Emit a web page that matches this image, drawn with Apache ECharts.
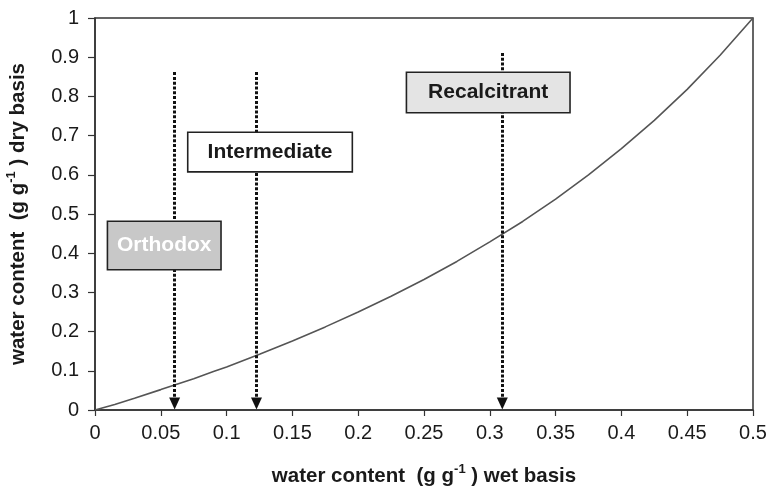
<!DOCTYPE html>
<html>
<head>
<meta charset="utf-8">
<script src="https://cdn.jsdelivr.net/npm/echarts@6/dist/echarts.min.js"></script>
<style>html,body{margin:0;padding:0;background:#fff}#c{width:767px;height:489px}</style>
</head>
<body>
<div id="c"></div>
<script>
// wet basis (x) vs dry basis (y) water content curve
const curveX = [0, 0.015, 0.03, 0.05, 0.075, 0.09, 0.1, 0.125, 0.15, 0.175, 0.2, 0.225, 0.25, 0.275, 0.3, 0.325, 0.35, 0.375, 0.4, 0.425, 0.45, 0.475, 0.5];
const curveY = [0, 0.014, 0.03, 0.052, 0.08, 0.098, 0.11, 0.142, 0.176, 0.212, 0.25, 0.29, 0.333, 0.379, 0.429, 0.481, 0.538, 0.6, 0.667, 0.739, 0.818, 0.905, 1.0];

// category arrows (x position, top value)
const arrowX = [0.0605, 0.1227, 0.3095];
const arrowTop = [0.862, 0.862, 0.911];

// category boxes
const boxNames = ['Orthodox', 'Intermediate', 'Recalcitrant'];
const boxX = [0.0526, 0.133, 0.2988];
const boxY = [0.4196, 0.658, 0.81];

const xTicks = ['0', '0.05', '0.1', '0.15', '0.2', '0.25', '0.3', '0.35', '0.4', '0.45', '0.5'];
const yTicks = ['0', '0.1', '0.2', '0.3', '0.4', '0.5', '0.6', '0.7', '0.8', '0.9', '1'];

const FONT = "'Liberation Sans', Arial, Helvetica, sans-serif";
const boxStyles = [
  {bg: '#c8c8c8', color: '#ffffff', w: 112, h: 47},
  {bg: '#ffffff', color: '#1a1a1a', w: 163, h: 38},
  {bg: '#e4e4e4', color: '#1a1a1a', w: 162, h: 39}
];

const chart = echarts.init(document.getElementById('c'), null, {renderer: 'canvas'});
const titleRich = {
  a: {fontFamily: FONT, fontWeight: 'bold', fontSize: 20.5, color: '#1a1a1a'},
  s: {fontFamily: FONT, fontWeight: 'bold', fontSize: 13, color: '#1a1a1a', padding: [0, 0, 13, 0]}
};

chart.setOption({
  animation: false,
  backgroundColor: '#fff',
  grid: {left: 95, right: 14, top: 18, bottom: 79, outerBoundsMode: 'none', containLabel: false,
         show: true, borderColor: '#333', borderWidth: 1.5, backgroundColor: 'transparent'},
  xAxis: {
    type: 'value', min: 0, max: 0.5, interval: 0.05,
    name: '{a|water content  (g g}{s|-1}{a| ) wet basis}',
    nameLocation: 'middle', nameGap: 53, nameMoveOverlap: false,
    nameTextStyle: {rich: titleRich},
    axisLine: {show: true, lineStyle: {color: '#333', width: 1.5}},
    axisTick: {show: true, length: 6, lineStyle: {color: '#333', width: 1.2}},
    splitLine: {show: false},
    axisLabel: {
      margin: 13, fontFamily: FONT, fontSize: 20, color: '#1a1a1a',
      formatter: function (v) { return xTicks[Math.round(v / 0.05)]; }
    }
  },
  yAxis: {
    type: 'value', min: 0, max: 1, interval: 0.1,
    name: '{a|water content  (g g}{s|-1}{a| ) dry basis}',
    nameLocation: 'middle', nameGap: 64, nameRotate: 90, nameMoveOverlap: false,
    nameTextStyle: {rich: titleRich},
    axisLine: {show: true, lineStyle: {color: '#333', width: 1.5}},
    axisTick: {show: true, length: 7, lineStyle: {color: '#333', width: 1.2}},
    splitLine: {show: false},
    axisLabel: {
      margin: 16, fontFamily: FONT, fontSize: 20, color: '#1a1a1a',
      formatter: function (v) { return yTicks[Math.round(v / 0.1)]; }
    }
  },
  series: [
    {
      type: 'line', z: 2,
      data: curveX.map((x, i) => [x, curveY[i]]),
      showSymbol: false, symbol: 'none',
      lineStyle: {color: '#555', width: 1.6},
      silent: true
    },
    {
      type: 'line', z: 3, data: [], silent: true,
      markLine: {
        silent: true, animation: false,
        symbol: ['none', 'triangle'], symbolSize: [11, 12],
        label: {show: false},
        lineStyle: {color: '#111', width: 3, type: [3, 1.8], opacity: 1},
        itemStyle: {color: '#111'},
        data: arrowX.map((x, i) => [{coord: [x, arrowTop[i]]}, {coord: [x, 0.0165]}])
      }
    },
    {
      type: 'scatter', z: 5, symbolSize: 1, silent: true,
      itemStyle: {color: 'rgba(0,0,0,0)', opacity: 1},
      emphasis: {disabled: true},
      data: boxNames.map((n, i) => ({
        value: [boxX[i], boxY[i]], name: n,
        label: {
          show: true, position: 'inside', formatter: n, opacity: 1,
          fontFamily: FONT, fontWeight: 'bold', fontSize: 21,
          color: boxStyles[i].color, textBorderWidth: 0,
          backgroundColor: boxStyles[i].bg,
          borderColor: '#222', borderWidth: 1.6,
          width: boxStyles[i].w, height: boxStyles[i].h, lineHeight: boxStyles[i].h,
          align: 'center', verticalAlign: 'middle', padding: 0
        }
      }))
    }
  ]
});
</script>
</body>
</html>
